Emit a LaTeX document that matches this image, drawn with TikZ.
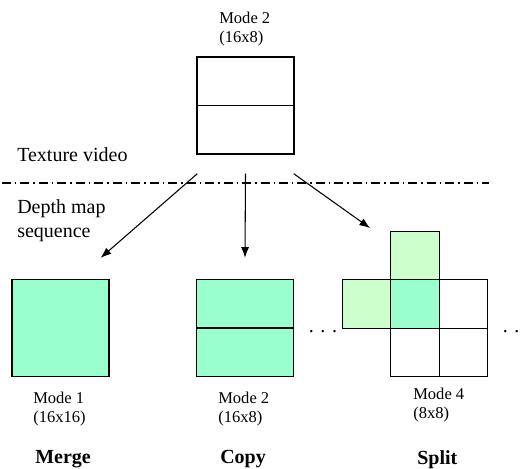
\documentclass[tikz,border=0pt]{standalone}
\usepackage{fontspec}
\setmainfont{Liberation Serif}
\usetikzlibrary{arrows.meta}
\definecolor{mint}{RGB}{153,255,204}
\definecolor{palegreen}{RGB}{204,255,204}

\begin{document}
\begin{tikzpicture}[x=0.75pt,y=-0.75pt,
    block/.style={draw,line width=1pt,minimum size=72.75pt,inner sep=0pt},
    cell/.style={draw,line width=1pt,minimum size=36.4pt,inner sep=0pt},
    modelabel/.style={anchor=north west,inner sep=0pt,align=left,
      font=\fontsize{12.4}{14.3}\selectfont},
    sidelabel/.style={anchor=north west,inner sep=0pt,align=left,
      font=\fontsize{15}{18}\selectfont},
    caption/.style={anchor=north west,inner sep=0pt,
      font=\fontsize{15}{18}\selectfont\bfseries},
    dotlabel/.style={anchor=base west,inner sep=0pt,
      font=\fontsize{15}{18}\selectfont},
    modearrow/.style={-{Latex[length=8pt,width=6pt]},line width=0.8pt}]
  \useasboundingbox (0,0) rectangle (521,468);

  % texture video block
  \node[block] (top) at (245.5,105.5) {};
  \draw[line width=1pt] (top.west) -- (top.east);
  \node[modelabel] (toplabel) at (219,12) {Mode 2\\(16x8)};

  \node[sidelabel] (texture) at (17,147) {Texture video};
  \draw[line width=0.8pt,dash pattern=on 6.75pt off 3pt on 1.1pt off 3pt]
    (2,183) -- (489,183);
  \node[sidelabel] (depth) at (17,199) {Depth map\\sequence};

  % depth map blocks
  \node[block,fill=mint] (merge) at (60.5,328) {};
  \node[block,fill=mint] (copy) at (245,328) {};
  \draw[line width=1pt] (copy.west) -- (copy.east);

  \node[cell,fill=palegreen] (splitup) at (415,256) {};
  \node[cell,fill=palegreen] (splitleft) at (366.5,304) {};
  \node[cell,fill=mint] (splitmid) at (415,304) {};
  \node[cell] (splitright) at (463.5,304) {};
  \node[cell] (splitdown) at (415,352.5) {};
  \node[cell] (splitcorner) at (463.5,352.5) {};

  \node[dotlabel] (dotsmid) at (308.5,332) {. . .};
  \node[dotlabel] (dotsright) at (502.5,332) {. .};

  % arrows
  \draw[modearrow] ([shift={(1,19)}]top.south west)
    -- ([shift={(-9,-21)}]merge.north east);
  \draw[modearrow] ([shift={(0,19)}]top.south)
    -- ([shift={(0,-21)}]copy.north);
  \draw[modearrow] ([shift={(-1,19)}]top.south east)
    -- ([shift={(-20,-3)}]splitup.north west);

  % labels
  \node[modelabel] (mergelabel) at (33,392) {Mode 1\\(16x16)};
  \node[modelabel] (copylabel) at (218,392) {Mode 2\\(16x8)};
  \node[modelabel] (splitlabel) at (413,388) {Mode 4\\(8x8)};

  \node[caption] (mergecap) at (35,450) {Merge};
  \node[caption] (copycap) at (220,450) {Copy};
  \node[caption] (splitcap) at (417,450) {Split};
\end{tikzpicture}
\end{document}
